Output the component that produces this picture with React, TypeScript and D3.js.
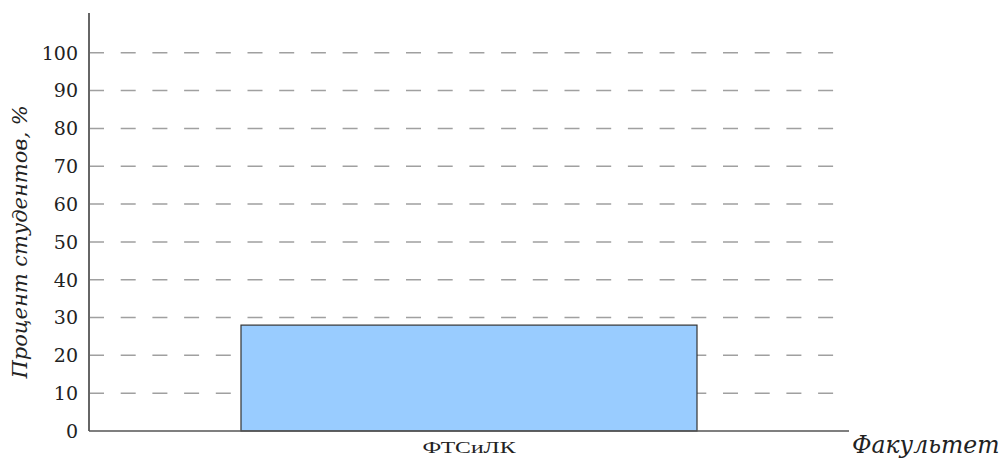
import React, { useRef, useEffect } from "react";
import { select, scaleLinear, scaleBand } from "d3";

const categories = ["ФТСиЛК"];
const values = [28];
const yTicks = [0, 10, 20, 30, 40, 50, 60, 70, 80, 90, 100];
const yTitle = "Процент студентов, %";
const xTitle = "Факультет";

const W = 1003;
const H = 459;
const left = 89;
const right = 849;
const top = 13;
const bottom = 431;

function App() {
  const svgRef = useRef<SVGSVGElement>(null);

  useEffect(() => {
    const svg = select(svgRef.current);
    svg.selectAll("*").remove();
    const serif = "'DejaVu Serif', serif";
    const times = "'Liberation Serif', serif";

    const y = scaleLinear().domain([0, 100]).range([bottom, 52.8]);
    const x = scaleBand<string>()
      .domain(categories)
      .range([left, right])
      .paddingInner(0.4)
      .paddingOuter(0.2);

    // dashed grid
    svg
      .append("g")
      .selectAll("line")
      .data(yTicks.filter((t) => t > 0))
      .join("line")
      .attr("x1", left)
      .attr("x2", 843)
      .attr("y1", (d) => y(d))
      .attr("y2", (d) => y(d))
      .attr("stroke", "#a0a0a0")
      .attr("stroke-width", 1.5)
      .attr("stroke-dasharray", "15,16.7");

    // tick labels
    svg
      .append("g")
      .selectAll("text")
      .data(yTicks)
      .join("text")
      .attr("x", 78)
      .attr("y", (d) => y(d))
      .attr("dy", "0.36em")
      .attr("text-anchor", "end")
      .attr("font-family", serif)
      .attr("font-size", 19)
      .attr("fill", "#222")
      .text((d) => d);

    // bars
    svg
      .append("g")
      .selectAll("rect")
      .data(values)
      .join("rect")
      .attr("x", (d, i) => x(categories[i]) as number)
      .attr("y", (d) => y(d))
      .attr("width", x.bandwidth())
      .attr("height", (d) => y(0) - y(d))
      .attr("fill", "#99ccff")
      .attr("stroke", "#333")
      .attr("stroke-width", 1.2);

    // category labels (wide glyphs in the original)
    svg
      .append("g")
      .selectAll("text")
      .data(categories)
      .join("text")
      .attr("x", (d) => (x(d) as number) + x.bandwidth() / 2)
      .attr("y", 453)
      .attr("text-anchor", "middle")
      .attr("font-family", times)
      .attr("font-size", 17.5)
      .attr("textLength", 93)
      .attr("lengthAdjust", "spacingAndGlyphs")
      .attr("fill", "#222")
      .text((d) => d);

    // axes
    svg
      .append("line")
      .attr("x1", left)
      .attr("x2", left)
      .attr("y1", top)
      .attr("y2", bottom)
      .attr("stroke", "#666")
      .attr("stroke-width", 2);
    svg
      .append("line")
      .attr("x1", left)
      .attr("x2", right)
      .attr("y1", bottom)
      .attr("y2", bottom)
      .attr("stroke", "#555")
      .attr("stroke-width", 1.5);

    // titles
    svg
      .append("text")
      .attr("transform", `translate(27,${y(50)}) rotate(-90)`)
      .attr("text-anchor", "middle")
      .attr("font-family", serif)
      .attr("font-style", "italic")
      .attr("font-size", 21)
      .attr("fill", "#222")
      .text(yTitle);
    svg
      .append("text")
      .attr("x", 852)
      .attr("y", 453)
      .attr("font-family", serif)
      .attr("font-style", "italic")
      .attr("font-size", 23.5)
      .attr("fill", "#222")
      .text(xTitle);
  }, []);

  return (
    <svg
      ref={svgRef}
      width={W}
      height={H}
      style={{ position: "absolute", left: 0, top: 0, background: "#fff" }}
    />
  );
}

export default App;
